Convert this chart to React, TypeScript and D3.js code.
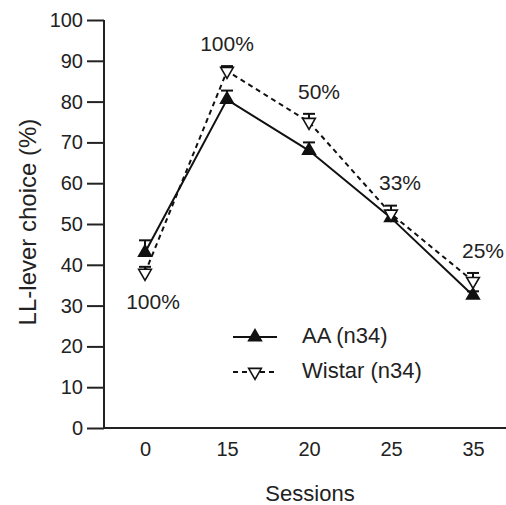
import React, { useRef, useEffect } from "react";
import * as d3 from "d3";

const sessions = ["0", "15", "20", "25", "35"];
const aaMean = [43, 80.5, 68, 51.5, 32.5];
const aaErr = [3, 2.2, 2, 1.5, 1];
const wistarMean = [38, 87.5, 75, 52.5, 36];
const wistarErr = [1.5, 1.2, 2, 2, 2];
const pctLabels = ["100%", "100%", "50%", "33%", "25%"];
const yTicks = [0, 10, 20, 30, 40, 50, 60, 70, 80, 90, 100];

const App = () => {
  const svgRef = useRef<SVGSVGElement>(null);

  useEffect(() => {
    const svg = d3.select(svgRef.current);
    svg.selectAll("*").remove();
    const width = 506;
    const height = 505;
    const font = "Liberation Sans, Arial, sans-serif";
    const fs = 21;

    const x = d3.scalePoint().domain(sessions).range([145, 473]);
    const y = d3.scaleLinear().domain([0, 100]).range([428, 20]);

    // axes
    const yAxis = svg
      .append("g")
      .attr("transform", "translate(104,0)")
      .call(d3.axisLeft(y).tickValues(yTicks).tickSize(17).tickPadding(4));
    yAxis.select(".domain").attr("stroke", "#222").attr("stroke-width", 2).attr("d", `M0,${y(100)}V${y(0)}`);
    yAxis.selectAll(".tick line").attr("stroke", "#222").attr("stroke-width", 2);
    yAxis.selectAll(".tick text").attr("font-size", 20).attr("font-family", font).attr("fill", "#222");

    const xAxis = svg
      .append("g")
      .attr("transform", `translate(0,${y(0)})`)
      .call(d3.axisBottom(x).tickSize(0).tickPadding(14));
    xAxis.select(".domain").attr("stroke", "#222").attr("stroke-width", 2).attr("d", `M103,0H${width}`);
    xAxis.selectAll(".tick text").attr("font-size", 20).attr("font-family", font).attr("fill", "#222");

    // axis titles
    svg
      .append("text")
      .attr("transform", `translate(30,${(y(0) + y(100)) / 2 - 2}) rotate(-90)`)
      .attr("text-anchor", "middle")
      .attr("dominant-baseline", "middle")
      .attr("font-size", fs + 3)
      .attr("font-family", font)
      .attr("fill", "#222")
      .text("LL-lever choice (%)");
    svg
      .append("text")
      .attr("x", 310)
      .attr("y", 495)
      .attr("text-anchor", "middle")
      .attr("dominant-baseline", "middle")
      .attr("font-size", fs + 1)
      .attr("font-family", font)
      .attr("fill", "#222")
      .text("Sessions");

    const up = d3.symbol().type(d3.symbolTriangle).size(70);

    const series = [
      { mean: aaMean, err: aaErr, dash: null, down: false },
      { mean: wistarMean, err: wistarErr, dash: "5,4", down: true },
    ];

    const line = d3
      .line<number>()
      .x((d, i) => x(sessions[i])!)
      .y((d) => y(d));

    series.forEach((s) => {
      svg
        .append("path")
        .datum(s.mean)
        .attr("d", line)
        .attr("fill", "none")
        .attr("stroke", "#111")
        .attr("stroke-width", 2)
        .attr("stroke-dasharray", s.dash);

      // error bars (upper)
      const g = svg.append("g");
      s.mean.forEach((m, i) => {
        const cx = x(sessions[i])!;
        g.append("line")
          .attr("x1", cx).attr("x2", cx)
          .attr("y1", y(m)).attr("y2", y(m + s.err[i]))
          .attr("stroke", "#111").attr("stroke-width", 2);
        g.append("line")
          .attr("x1", cx - 6).attr("x2", cx + 6)
          .attr("y1", y(m + s.err[i])).attr("y2", y(m + s.err[i]))
          .attr("stroke", "#111").attr("stroke-width", 2);
      });

      svg
        .append("g")
        .selectAll("path")
        .data(s.mean)
        .join("path")
        .attr("d", up)
        .attr("transform", (d, i) => `translate(${x(sessions[i])},${y(d)})${s.down ? " rotate(180)" : ""}`)
        .attr("fill", s.down ? "white" : "#111")
        .attr("stroke", "#111")
        .attr("stroke-width", 1.6);
    });

    // percentage annotations
    const annot = [
      { dx: 8, dy: 30 },
      { dx: 0, dy: -26 },
      { dx: 10, dy: -29 },
      { dx: 9, dy: -29 },
      { dx: 10, dy: -29 },
    ];
    svg
      .append("g")
      .selectAll("text")
      .data(pctLabels)
      .join("text")
      .attr("x", (d, i) => x(sessions[i])! + annot[i].dx)
      .attr("y", (d, i) => y(wistarMean[i]) + annot[i].dy)
      .attr("text-anchor", "middle")
      .attr("dominant-baseline", "middle")
      .attr("font-size", fs)
      .attr("font-family", font)
      .attr("fill", "#222")
      .text((d) => d);

    // legend
    const legend = svg.append("g");
    series.forEach((s, i) => {
      const ly = 337 + i * 35;
      legend.append("line")
        .attr("x1", 233).attr("x2", 277)
        .attr("y1", ly).attr("y2", ly)
        .attr("stroke", "#111").attr("stroke-width", 2)
        .attr("stroke-dasharray", s.dash);
      legend.append("path")
        .attr("d", up)
        .attr("transform", `translate(255,${ly})${s.down ? " rotate(180)" : ""}`)
        .attr("fill", s.down ? "white" : "#111")
        .attr("stroke", "#111")
        .attr("stroke-width", 1.6);
      legend.append("text")
        .attr("x", 302).attr("y", ly)
        .attr("dominant-baseline", "middle")
        .attr("font-size", fs + 1)
        .attr("font-family", font)
        .attr("fill", "#222")
        .text(i === 0 ? "AA (n34)" : "Wistar (n34)");
    });

    svg.attr("width", width).attr("height", height);
  }, []);

  return <svg ref={svgRef} style={{ position: "absolute", left: 0, top: 0 }}></svg>;
};

export default App;
